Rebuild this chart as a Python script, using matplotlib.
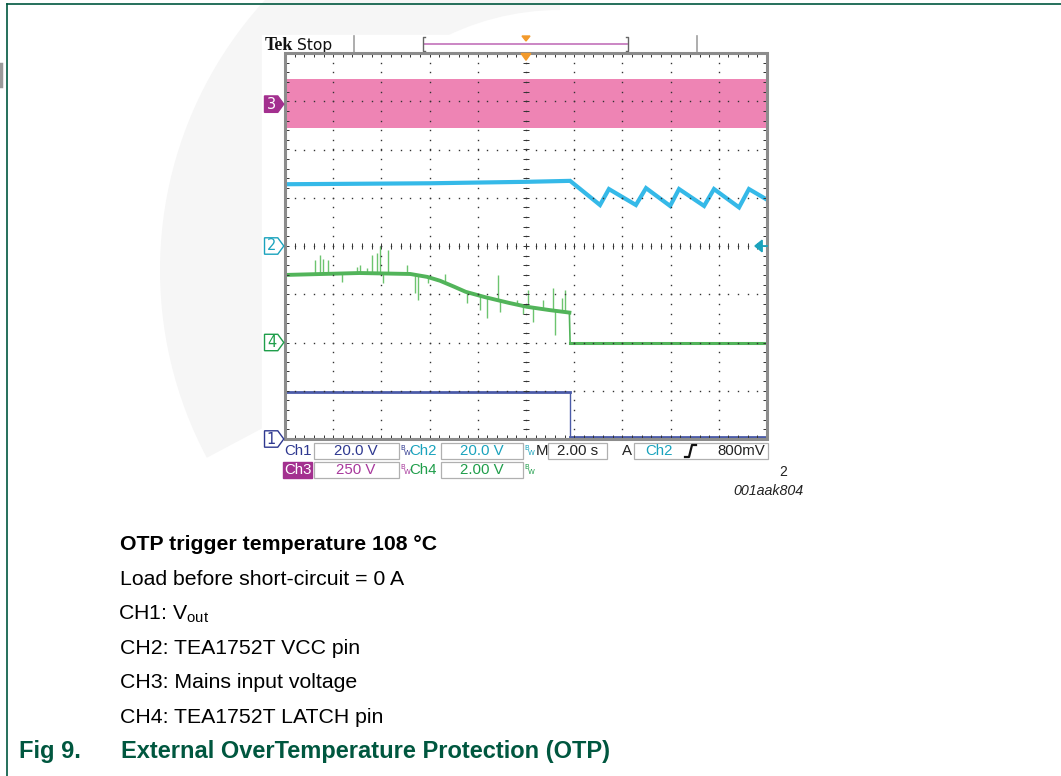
import numpy as np
import matplotlib
matplotlib.use("Agg")
import matplotlib.pyplot as plt
from matplotlib.patches import Rectangle, Polygon, Wedge

plt.rcParams['font.family'] = ['Liberation Sans', 'DejaVu Sans']
plt.rcParams['mathtext.fontset'] = 'custom'
plt.rcParams['mathtext.rm'] = 'Liberation Sans'

# ---- trace data (time in s, level in divisions, 2 s/div) ----
ch1_t = [-10, 1.83, 1.83, 10]
ch1_v = [0.97, 0.97, 0.04, 0.04]

ch2_t = [-10, -4, 0, 1.83, 3.07, 3.44, 4.56, 4.98, 5.98, 6.35, 7.39, 7.80, 8.84, 9.25, 10]
ch2_v = [5.28, 5.30, 5.33, 5.35, 4.85, 5.18, 4.85, 5.20, 4.83, 5.18, 4.83, 5.18, 4.80, 5.18, 4.96]

ch3_lo, ch3_hi = 6.45, 7.46

ch4_t = [-10, -6.9, -4.8, -4.1, -3.57, -3.0, -2.5, -1.7, -0.7, 0.04, 1.0, 1.8, 1.83, 10]
ch4_v = [3.40, 3.44, 3.42, 3.36, 3.28, 3.16, 3.05, 2.94, 2.82, 2.74, 2.67, 2.62, 1.99, 1.99]

# glitches on the LATCH trace (time, tip level)
spike_t = [-8.76, -8.55, -8.41, -8.20, -7.65, -7.02, -6.89, -6.61, -6.40, -6.20, -6.06,
           -5.92, -5.71, -4.95, -4.61, -4.47, -4.05, -3.36, -2.46, -1.91, -1.63, -1.15,
           -1.08, -0.39, -0.11, 0.10, 0.30, 0.72, 1.13, 1.20, 1.48, 1.62]
spike_v = [3.71, 3.81, 3.74, 3.71, 3.26, 3.57, 3.61, 3.54, 3.81, 3.85, 3.99,
           3.23, 3.92, 3.61, 3.02, 2.88, 3.23, 3.43, 2.81, 2.67, 2.50, 3.40,
           2.64, 2.88, 2.60, 3.09, 2.43, 2.88, 3.12, 2.16, 2.92, 3.09]

# channel ground markers (divisions)
markers = {'3': 6.94, '2': 4.0, '4': 2.0, '1': 0.0}

notes = ["Load before short-circuit = 0 A",
         "CH1: V$_\\mathregular{out}$",
         "CH2: TEA1752T VCC pin",
         "CH3: Mains input voltage",
         "CH4: TEA1752T LATCH pin"]

c1, c2, c3, c4 = '#4b5ba8', '#35b9e8', '#ee84b4', '#52b45a'
t1, t2, t3, t4 = '#2e3890', '#1aa3bd', '#a8389c', '#1f9e4a'
green_dark = '#00573f'

W, H = 1061, 776
fig = plt.figure(figsize=(W / 100, H / 100), dpi=100)
page = fig.add_axes([0, 0, 1, 1])
page.set_xlim(0, W)
page.set_ylim(H, 0)
page.axis('off')

# faint watermark ring
page.add_patch(Wedge((560, 270), 400, 152, 270, width=140, color='#f6f6f6', lw=0, zorder=0))
# page frame
page.plot([7, W], [4, 4], color=green_dark, lw=1.2, zorder=1)
page.plot([7, 7], [4, H], color=green_dark, lw=1.2, zorder=1)
page.plot([1, 1], [64, 86], color='#9a9a9a', lw=2.5, zorder=1)

# scope screen background
page.add_patch(Rectangle((262, 35), 518, 447, color='white', zorder=1))

# top status bar
page.text(265, 50, 'Tek', family='Liberation Serif', weight='bold', fontsize=13,
          color='#111', zorder=3)
page.text(297, 50, 'Stop', family='DejaVu Sans', fontsize=11.2, color='#111', zorder=3)
for xx in (354, 697):
    page.plot([xx, xx], [36, 52], color='#a0a0a0', lw=1.2, zorder=3)
page.plot([424, 627], [44, 44], color='#c77dbf', lw=1.3, zorder=3)
for xx, d in ((423, 1), (628, -1)):
    page.plot([xx + 2 * d, xx, xx, xx + 2 * d], [37, 37, 51, 51], color='#666', lw=1, zorder=3)
page.add_patch(Polygon([[522, 36], [530, 36], [526, 41]], color='#f39a2b', zorder=4))

# ---- scope graticule axes ----
x0, y0, x1, y1 = 285, 53, 767, 439
ax = fig.add_axes([x0 / W, 1 - y1 / H, (x1 - x0) / W, (y1 - y0) / H])
ax.set_xlim(-10, 10)
ax.set_ylim(0, 8)
ax.axis('off')
ax.patch.set_alpha(0)

# traces
ax.fill_between([-10, 10], ch3_lo, ch3_hi, color=c3, lw=0, zorder=1)
ax.plot(ch2_t, ch2_v, color=c2, lw=3.0, solid_joinstyle='miter', zorder=2)
ax.vlines(spike_t, np.interp(spike_t, ch4_t, ch4_v), spike_v, color='#6cc46f', lw=1.0, zorder=2)
ax.plot(ch4_t[:12], ch4_v[:12], color=c4, lw=2.8, zorder=3)
ax.plot(ch4_t[11:], ch4_v[11:], color=c4, lw=1.2, zorder=3)
ax.plot(ch4_t[12:], ch4_v[12:], color=c4, lw=2.2, zorder=3)
ax.plot(ch1_t[:2], ch1_v[:2], color=c1, lw=2.0, zorder=3)
ax.plot(ch1_t[1:3], ch1_v[1:3], color=c1, lw=1.0, zorder=3)
ax.plot(ch1_t[2:], ch1_v[2:], color=c1, lw=2.0, zorder=3)

# dotted graticule
dot = dict(ls='none', marker='s', ms=1.0, mew=0, color='#333333', zorder=5)
ys = np.arange(0.2, 8.0, 0.2)
xs = np.arange(-9.6, 10.0, 0.4)
for gx in range(-8, 10, 2):
    ax.plot(np.full_like(ys, gx), ys, **dot)
for gy in range(1, 8):
    ax.plot(xs, np.full_like(xs, gy), **dot)
tk = dict(color='#333333', lw=0.7, zorder=5)
ax.hlines(ys, -0.13, 0.13, **tk)
ax.vlines(xs, 3.93, 4.07, **tk)
ax.vlines(xs, 0, 0.08, **tk)
ax.vlines(xs, 7.92, 8, **tk)
ax.hlines(ys, -10, -9.84, **tk)
ax.hlines(ys, 9.84, 10, **tk)
ax.add_patch(Rectangle((0, 0), 1, 1, transform=ax.transAxes, fill=False,
                       ec='#8c8c8c', lw=2.2, clip_on=False, zorder=6))

# trigger position and level
ax.add_patch(Polygon([[-0.2, 7.99], [0.2, 7.99], [0, 7.85]], color='#f39a2b',
                     clip_on=False, zorder=7))
ax.add_patch(Polygon([[9.5, 4.0], [9.8, 4.12], [9.8, 3.88]], color=t2, clip_on=False, zorder=7))
ax.plot([9.75, 10.0], [4.0, 4.0], color=t2, lw=1.3, clip_on=False, zorder=7)

# channel markers on the left
mcol = {'3': '#a3308f', '2': t2, '4': t4, '1': t1}
for name, lev in markers.items():
    pts = [[-10.85, lev - 0.17], [-10.3, lev - 0.17], [-10.05, lev],
           [-10.3, lev + 0.17], [-10.85, lev + 0.17]]
    filled = name == '3'
    ax.add_patch(Polygon(pts, closed=True, fc=mcol[name] if filled else 'white',
                         ec=mcol[name], lw=1.0, clip_on=False, zorder=7))
    ax.text(-10.56, lev, name, ha='center', va='center', fontsize=10.5,
            family='DejaVu Sans', color='white' if filled else mcol[name],
            clip_on=False, zorder=8)

# ---- readout boxes ----
ro = dict(family='Liberation Sans', fontsize=10.8, va='center', zorder=4)


def box(xa, xb, ya, yb):
    page.add_patch(Rectangle((xa, ya), xb - xa, yb - ya, fill=False, ec='#b0b0b0',
                             lw=0.9, zorder=3))


def bw(xx, yc, col):
    page.text(xx, yc - 3, 'B', family='DejaVu Sans', fontsize=5, color=col, va='center', zorder=4)
    page.text(xx + 3.5, yc + 2, 'W', family='DejaVu Sans', fontsize=5, color=col, va='center', zorder=4)


r1, r2 = 451, 470
page.text(284, r1, 'Ch1', color=t1, **ro)
box(314, 399, 443, 459)
page.text(356, r1, '20.0 V', color=t1, ha='center', **ro)
bw(400, r1, t1)
page.text(409, r1, 'Ch2', color=t2, **ro)
box(441, 523, 443, 459)
page.text(482, r1, '20.0 V', color=t2, ha='center', **ro)
bw(524, r1, t2)
page.text(536, r1, 'M', color='#222', **ro)
box(548, 607, 443, 459)
page.text(578, r1, '2.00 s', color='#222', ha='center', **ro)
page.text(622, r1, 'A', color='#222', **ro)
box(634, 768, 443, 459)
page.text(645, r1, 'Ch2', color=t2, **ro)
page.plot([685, 689, 692, 696], [457, 457, 445, 445], color='#111', lw=1.6, zorder=4)
page.text(765, r1, '800mV', color='#222', ha='right', **ro)

page.add_patch(Rectangle((283, 462), 29, 16, color='#a3308f', zorder=3))
page.text(284, r2, 'Ch3', color='white', **ro)
box(314, 399, 462, 478)
page.text(356, r2, '250 V', color=t3, ha='center', **ro)
bw(400, r2, t3)
page.text(409, r2, 'Ch4', color=t4, **ro)
box(441, 523, 462, 478)
page.text(482, r2, '2.00 V', color=t4, ha='center', **ro)
bw(524, r2, t4)

page.text(783, 472, '2', ha='center', va='center', fontsize=10, color='#222')
page.text(804, 491, '001aak804', ha='right', va='center', fontsize=10.3,
          style='italic', color='#222')

# ---- caption text ----
page.text(120, 550, 'OTP trigger temperature 108 \u00b0C', fontsize=15.3, weight='bold',
          color='black', va='baseline')
for i, line in enumerate(notes):
    page.text(118 if '$' in line else 120, 585 + 34.5 * i, line, fontsize=15.3,
              color='black', va='baseline')
page.text(19, 758, 'Fig 9.', fontsize=17, weight='bold', color=green_dark, va='baseline')
page.text(121, 758, 'External OverTemperature Protection (OTP)', fontsize=17,
          weight='bold', color=green_dark, va='baseline')

fig.savefig('out.png', dpi=100)
